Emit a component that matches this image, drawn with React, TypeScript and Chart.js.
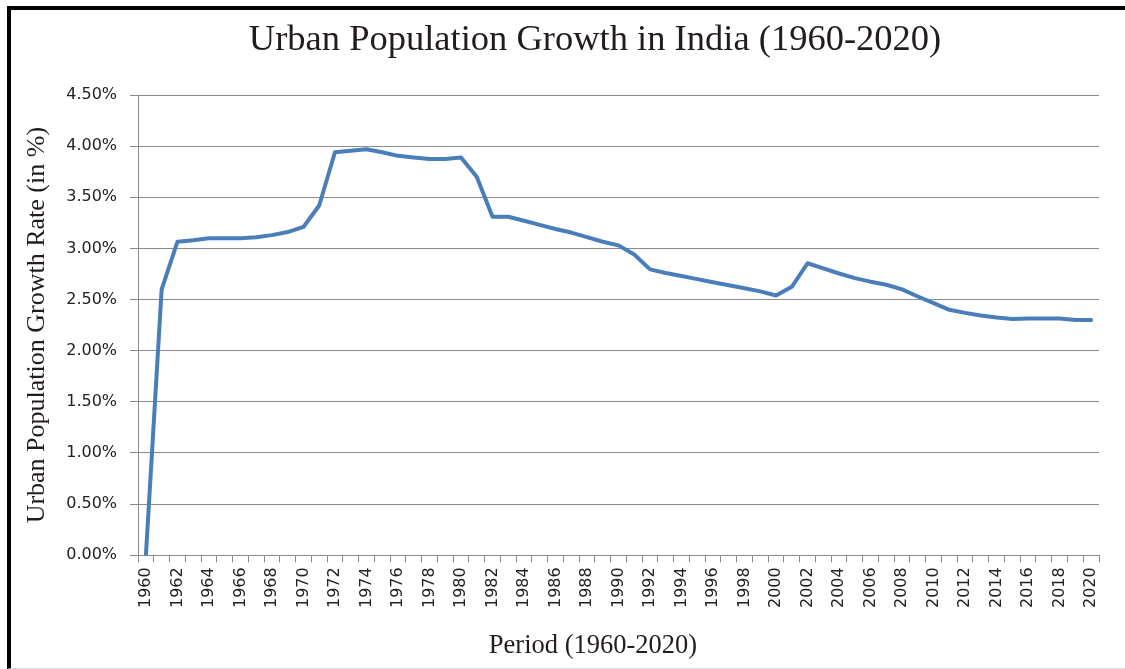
import React, { useEffect, useRef } from 'react';
import { Chart, registerables } from 'chart.js';

Chart.register(...registerables);

const TITLE = 'Urban Population Growth in India (1960-2020)';
const X_TITLE = 'Period (1960-2020)';
const Y_TITLE = 'Urban Population Growth Rate (in %)';

const YEARS = [
  '1960', '1961', '1962', '1963', '1964', '1965', '1966', '1967', '1968', '1969',
  '1970', '1971', '1972', '1973', '1974', '1975', '1976', '1977', '1978', '1979',
  '1980', '1981', '1982', '1983', '1984', '1985', '1986', '1987', '1988', '1989',
  '1990', '1991', '1992', '1993', '1994', '1995', '1996', '1997', '1998', '1999',
  '2000', '2001', '2002', '2003', '2004', '2005', '2006', '2007', '2008', '2009',
  '2010', '2011', '2012', '2013', '2014', '2015', '2016', '2017', '2018', '2019',
  '2020',
];

// Urban population growth rate, in %
const GROWTH = [
  0.0, 2.6, 3.065, 3.08, 3.1, 3.1, 3.1, 3.11, 3.13, 3.16,
  3.21, 3.42, 3.94, 3.955, 3.97, 3.94, 3.905, 3.89, 3.875, 3.875,
  3.89, 3.7, 3.31, 3.31, 3.27, 3.23, 3.19, 3.155, 3.11, 3.065,
  3.03, 2.94, 2.795, 2.76, 2.73, 2.7, 2.67, 2.64, 2.61, 2.58,
  2.54, 2.625, 2.855, 2.805, 2.755, 2.71, 2.675, 2.645, 2.6, 2.53,
  2.465, 2.4, 2.37, 2.345, 2.325, 2.31, 2.315, 2.315, 2.315, 2.3,
  2.3,
];

const Y_MIN = 0;
const Y_MAX = 4.5;
const Y_STEP = 0.5;

const SERIF = '"Liberation Serif", "Times New Roman", serif';
const SANS = '"DejaVu Sans", Verdana, sans-serif';
const GRID = '#8a8a8a';
const TEXT = '#231c1c';

const titlesPlugin = {
  id: 'centeredTitles',
  afterDraw(chart: any) {
    const ctx = chart.ctx;
    ctx.save();
    ctx.fillStyle = TEXT;
    ctx.textAlign = 'center';
    ctx.textBaseline = 'alphabetic';
    ctx.font = `36.5px ${SERIF}`;
    ctx.fillText(TITLE, 584, 40);
    ctx.font = `26.5px ${SERIF}`;
    ctx.fillText(X_TITLE, 582, 643);
    ctx.restore();
  },
};

export default function App() {
  const canvasRef = useRef<HTMLCanvasElement | null>(null);

  useEffect(() => {
    if (!canvasRef.current) return;
    const chart = new Chart(canvasRef.current, {
      type: 'line',
      data: {
        labels: YEARS,
        datasets: [
          {
            data: GROWTH,
            borderColor: '#4a7ebb',
            backgroundColor: '#4a7ebb',
            borderWidth: 4,
            borderJoinStyle: 'round',
            borderCapStyle: 'round',
            pointRadius: 0,
            pointHoverRadius: 0,
            tension: 0,
            fill: false,
          },
        ],
      },
      options: {
        animation: false,
        responsive: false,
        devicePixelRatio: 1,
        events: [],
        layout: { padding: { left: 5, right: 26, top: 85, bottom: 55 } },
        plugins: {
          legend: { display: false },
          tooltip: { enabled: false },
          title: { display: false },
        },
        scales: {
          x: {
            type: 'category',
            offset: true,
            grid: {
              offset: true,
              drawOnChartArea: false,
              drawTicks: true,
              tickLength: 7,
              color: GRID,
              lineWidth: 1,
            },
            border: { display: true, color: GRID, width: 1 },
            ticks: {
              autoSkip: false,
              maxRotation: 90,
              minRotation: 90,
              padding: 5,
              color: '#222',
              font: { family: SANS, size: 16 },
              callback: (_v: any, i: number) => (i % 2 === 0 ? YEARS[i] : ''),
            },
          },
          y: {
            min: Y_MIN,
            max: Y_MAX,
            grid: {
              drawTicks: true,
              tickLength: 8,
              color: GRID,
              lineWidth: 1,
            },
            border: { display: true, color: GRID, width: 1 },
            ticks: {
              stepSize: Y_STEP,
              padding: 13,
              color: '#222',
              font: { family: SANS, size: 16 },
              callback: (v: any) => Number(v).toFixed(2) + '%',
            },
            title: {
              display: true,
              text: Y_TITLE,
              color: TEXT,
              font: { family: SERIF, size: 26 },
              padding: { top: 6, bottom: 0 },
            },
          },
        },
      },
      plugins: [titlesPlugin],
    });
    return () => chart.destroy();
  }, []);

  return (
    <div
      style={{
        position: 'absolute',
        left: 7,
        top: 6,
        width: 1118,
        height: 658,
        borderLeft: '4px solid #000',
        borderTop: '4px solid #000',
        borderBottom: '1px solid #dcdcdc',
        background: '#fff',
        overflow: 'hidden',
      }}
    >
      <canvas ref={canvasRef} width={1114} height={658} style={{ display: 'block' }} />
    </div>
  );
}
